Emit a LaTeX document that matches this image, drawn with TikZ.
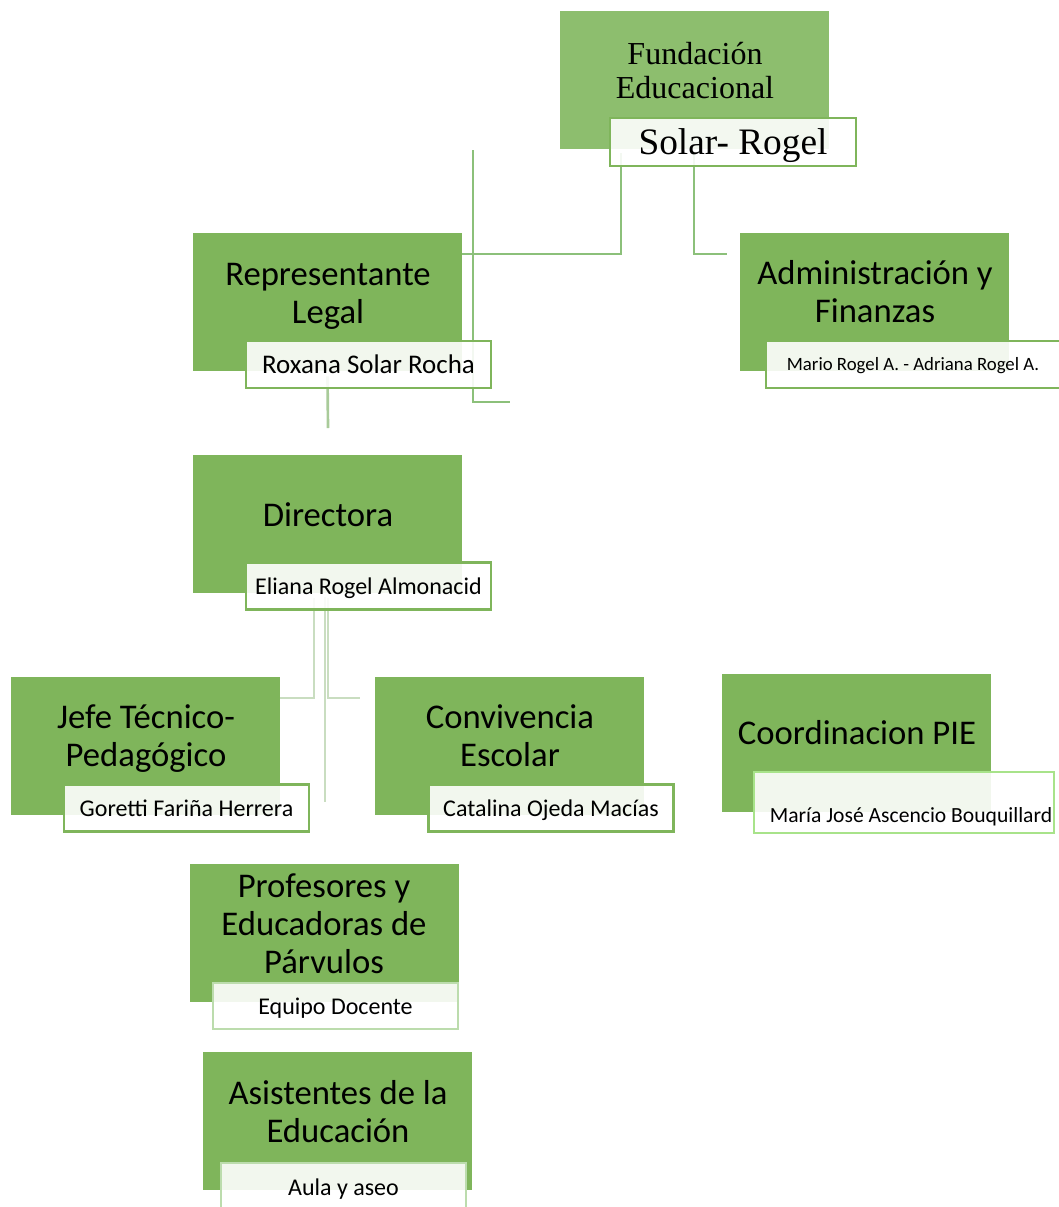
\documentclass[tikz,border=0pt]{standalone}
\usepackage{fontspec}
\setmainfont{Carlito}
\newfontfamily\serifrm{Liberation Serif}
\usetikzlibrary{positioning}
\pgfdeclarelayer{background}
\pgfsetlayers{background,main}
\definecolor{boxgreen}{HTML}{7FB55B}
\definecolor{topgreen}{HTML}{8DBE6E}
\definecolor{linegreen}{HTML}{8CC07A}
\definecolor{midgreen}{HTML}{A9CB9A}
\definecolor{palegreen}{HTML}{C9DDC0}
\definecolor{limegreen}{HTML}{A8E38A}
\definecolor{softgreen}{HTML}{BCDCAD}

\tikzset{
  rolebox/.style={fill=boxgreen, minimum width=201.75pt, minimum height=103.5pt, inner sep=0pt},
  namebox/.style={draw=boxgreen, line width=2pt, fill=white, fill opacity=0.9, text opacity=1,
    minimum width=183.75pt, minimum height=35.25pt, inner sep=0pt, text height=12.4pt, text depth=0pt,
    font=\fontsize{18}{21}\selectfont},
  roletxt/.style={align=center, inner sep=0pt, font=\fontsize{26}{28.5}\selectfont},
  link/.style={draw=linegreen, line width=2pt},
  faint/.style={draw=palegreen, line width=2pt}
}

\begin{document}
\begin{tikzpicture}[x=0.75pt,y=-0.75pt]
\useasboundingbox (0,0) rectangle (1059,1207);

% top: fundacion
\node[rolebox, fill=topgreen] (fund) at (694.5,80) {};
\node[roletxt, font=\serifrm\fontsize{24}{25.5}\selectfont] (fundtxt) at (695,71) {Fundación\\Educacional};
\node[namebox, minimum width=184.5pt, minimum height=36pt, text height=19pt, font=\serifrm\fontsize{28}{30}\selectfont] (fundlbl) at (733,142) {Solar- Rogel};

% second row
\node[rolebox] (rep) at (327.5,302) {};
\node[roletxt] (reptxt) at (328,296) {Representante\\Legal};
\node[namebox, text height=13.9pt, font=\fontsize{20.2}{23}\selectfont] (replbl) at (368.5,364.5) {Roxana Solar Rocha};

\node[rolebox] (adm) at (874,302) {};
\node[roletxt] (admtxt) at (875,292) {Administración y\\Finanzas};
\node[namebox, minimum width=220.5pt, text height=9.7pt, font=\fontsize{14.1}{16}\selectfont] (admlbl) at (913,364.5) {Mario Rogel A. - Adriana Rogel A.};

% directora
\node[rolebox] (dir) at (327.5,524) {};
\node[roletxt] (dirtxt) at (328,515) {Directora};
\node[namebox] (dirlbl) at (368.5,586) {Eliana Rogel Almonacid};

% third row
\node[rolebox] (jefe) at (145.5,746) {};
\node[roletxt] (jefetxt) at (146,739) {Jefe Técnico-\\Pedagógico};
\node[namebox] (jefelbl) at (186.5,808) {Goretti Fariña Herrera};

\node[rolebox] (conv) at (509.5,746) {};
\node[roletxt] (convtxt) at (510,736) {Convivencia\\Escolar};
\node[namebox] (convlbl) at (551,808) {Catalina Ojeda Macías};

\node[rolebox] (pie) at (856.5,742.5) {};
\node[roletxt] (pietxt) at (857,733) {Coordinacion PIE};
\node[namebox, draw=limegreen, minimum width=225pt, minimum height=45.75pt] (pielbl) at (904,802.5) {};
\node[inner sep=0pt, text height=11.2pt, text depth=0pt, font=\fontsize{16.2}{19}\selectfont] (pienm) at (911,815) {María José Ascencio Bouquillard};

% docentes y asistentes
\node[rolebox] (prof) at (324.5,933) {};
\node[roletxt] (proftxt) at (324,924) {Profesores y\\Educadoras de\\Párvulos};
\node[namebox, draw=softgreen, minimum height=34.5pt] (proflbl) at (335.5,1006) {Equipo Docente};

\node[rolebox] (asis) at (337.5,1121) {};
\node[roletxt] (asistxt) at (338,1112) {Asistentes de la\\Educación};
\node[namebox, draw=softgreen, minimum height=37pt] (asislbl) at (343.5,1187.5) {Aula y aseo};

% lineas
\coordinate (j1) at (621,254);
\coordinate (j2) at (694,254);
\coordinate (j3) at (473,402);
\coordinate (j4) at (314,698);
\coordinate (j5) at (328,698);
\begin{pgfonlayer}{background}
\draw[link] (fundlbl.south -| j1) ++(0,-14) -- (j1) -- (rep.east |- j1) ++(3,0) -- (j1);
\draw[link] (fundlbl.south -| j2) ++(0,-14) -- (j2) -- (727,254);
\draw[link] (473,150) -- (j3) -- (510,402);
\draw[midgreen, line width=2pt] (replbl.south -| rep.south) ++(0,-13) -- (328,428);
\draw[faint] (dirlbl.south -| j4) ++(0,-13) -- (j4) -- (jefe.east |- j4) ++(3,0) -- (j4);
\draw[faint] (325,597) -- (325,802);
\draw[faint] (dirlbl.south -| j5) ++(0,-13) -- (j5) -- (360,698);
\end{pgfonlayer}
\end{tikzpicture}
\end{document}
